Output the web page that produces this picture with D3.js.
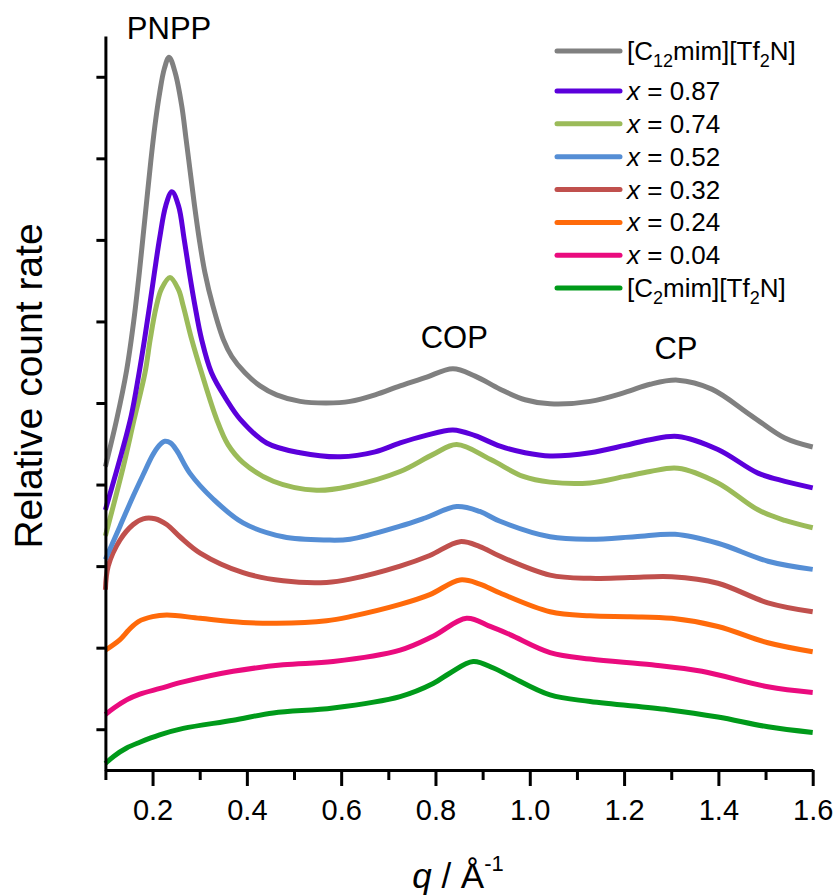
<!DOCTYPE html>
<html>
<head>
<meta charset="utf-8">
<script src="https://cdn.jsdelivr.net/npm/d3@7"></script>
<style>
  html, body { margin: 0; padding: 0; background: #fff; }
  svg { display: block; font-family: "Liberation Sans", Arial, sans-serif; }
</style>
</head>
<body>
<svg id="chart"></svg>
<script>
// q (1/Å) vs relative count rate (offset stacked)
const c12Data = [
  [0.100, 3.72], [0.124, 4.30], [0.145, 4.90], [0.160, 5.50], [0.172, 6.10], [0.180, 6.55],
  [0.188, 7.00], [0.196, 7.45], [0.205, 7.90], [0.215, 8.30], [0.225, 8.60], [0.235, 8.74],
  [0.248, 8.55], [0.262, 8.14], [0.271, 7.74], [0.280, 7.33], [0.289, 6.92],
  [0.299, 6.51], [0.311, 6.10], [0.328, 5.69], [0.350, 5.28], [0.368, 5.07], [0.396, 4.87],
  [0.428, 4.71], [0.463, 4.60], [0.513, 4.52], [0.569, 4.50], [0.619, 4.52], [0.672, 4.60],
  [0.725, 4.71], [0.778, 4.81], [0.837, 4.92], [0.884, 4.83], [0.937, 4.67], [0.990, 4.54],
  [1.043, 4.49], [1.128, 4.52], [1.202, 4.63], [1.255, 4.73], [1.314, 4.78], [1.386, 4.67],
  [1.471, 4.34], [1.541, 4.07], [1.600, 3.96]
];
const x087Data = [
  [0.100, 3.19], [0.135, 3.90], [0.155, 4.35], [0.170, 4.82], [0.183, 5.28], [0.194, 5.70],
  [0.204, 6.10], [0.215, 6.52], [0.228, 6.92], [0.241, 7.09], [0.255, 6.92], [0.267, 6.51],
  [0.278, 6.10], [0.290, 5.69], [0.304, 5.28], [0.325, 4.87], [0.357, 4.54], [0.386, 4.30],
  [0.442, 4.01], [0.513, 3.89], [0.598, 3.84], [0.672, 3.90], [0.725, 4.01], [0.778, 4.10],
  [0.837, 4.17], [0.884, 4.10], [0.937, 3.97], [0.990, 3.89], [1.043, 3.85], [1.128, 3.89],
  [1.202, 3.98], [1.255, 4.05], [1.314, 4.09], [1.399, 3.93], [1.484, 3.64], [1.541, 3.54],
  [1.600, 3.46]
];
const x074Data = [
  [0.100, 2.87], [0.138, 3.72], [0.161, 4.30], [0.184, 4.87], [0.195, 5.28], [0.207, 5.66],
  [0.219, 5.90], [0.237, 6.04], [0.255, 5.89], [0.265, 5.69], [0.283, 5.28], [0.304, 4.87],
  [0.336, 4.30], [0.360, 3.99], [0.392, 3.77], [0.456, 3.54], [0.548, 3.43], [0.619, 3.48],
  [0.725, 3.66], [0.795, 3.87], [0.845, 3.99], [0.916, 3.81], [0.986, 3.60], [1.043, 3.53],
  [1.128, 3.52], [1.202, 3.60], [1.255, 3.66], [1.314, 3.70], [1.399, 3.52], [1.484, 3.19],
  [1.541, 3.06], [1.600, 2.97]
];
const x052Data = [
  [0.100, 2.58], [0.131, 2.99], [0.159, 3.36], [0.180, 3.62], [0.200, 3.86], [0.214, 3.98],
  [0.226, 4.03], [0.238, 4.01], [0.251, 3.92], [0.279, 3.64], [0.329, 3.32], [0.392, 3.03],
  [0.477, 2.86], [0.569, 2.82], [0.619, 2.83], [0.725, 2.99], [0.778, 3.09], [0.845, 3.23],
  [0.894, 3.17], [0.937, 3.05], [1.043, 2.86], [1.128, 2.83], [1.223, 2.86], [1.308, 2.89],
  [1.399, 2.78], [1.505, 2.56], [1.600, 2.46]
];
const x032Data = [
  [0.100, 2.21], [0.106, 2.50], [0.131, 2.82], [0.159, 3.01], [0.180, 3.08], [0.205, 3.08],
  [0.230, 3.01], [0.258, 2.86], [0.301, 2.66], [0.392, 2.42], [0.477, 2.32], [0.569, 2.30],
  [0.619, 2.34], [0.725, 2.50], [0.788, 2.63], [0.852, 2.80], [0.894, 2.74], [0.937, 2.62],
  [1.043, 2.39], [1.128, 2.35], [1.213, 2.36], [1.301, 2.37], [1.399, 2.29], [1.505, 2.05],
  [1.600, 1.94]
];
const x024Data = [
  [0.100, 1.47], [0.131, 1.60], [0.150, 1.72], [0.170, 1.82], [0.200, 1.88], [0.230, 1.90],
  [0.301, 1.86], [0.392, 1.81], [0.463, 1.80], [0.569, 1.83], [0.619, 1.88], [0.725, 2.03],
  [0.788, 2.15], [0.852, 2.33], [0.894, 2.28], [0.937, 2.17], [1.043, 1.94], [1.128, 1.89],
  [1.213, 1.88], [1.301, 1.86], [1.399, 1.76], [1.505, 1.56], [1.600, 1.45]
];
const x004Data = [
  [0.100, 0.68], [0.118, 0.76], [0.145, 0.86], [0.173, 0.93], [0.216, 1.00], [0.265, 1.08],
  [0.371, 1.21], [0.477, 1.29], [0.583, 1.33], [0.725, 1.47], [0.795, 1.64], [0.866, 1.86],
  [0.916, 1.76], [0.958, 1.66], [1.043, 1.44], [1.128, 1.36], [1.259, 1.29], [1.365, 1.21],
  [1.505, 1.02], [1.600, 0.95]
];
const c2Data = [
  [0.100, 0.08], [0.118, 0.17], [0.145, 0.27], [0.173, 0.34], [0.215, 0.43], [0.265, 0.51],
  [0.371, 0.61], [0.456, 0.70], [0.583, 0.76], [0.725, 0.90], [0.795, 1.06], [0.831, 1.19],
  [0.880, 1.33], [0.923, 1.25], [0.958, 1.15], [1.043, 0.92], [1.128, 0.84], [1.293, 0.74],
  [1.399, 0.65], [1.505, 0.53], [1.600, 0.46]
];

const xMajorTicks = [0.2, 0.4, 0.6, 0.8, 1.0, 1.2, 1.4, 1.6];
const xMinorTicks = [0.1, 0.3, 0.5, 0.7, 0.9, 1.1, 1.3, 1.5];
const yTicks = [0.5, 1.5, 2.5, 3.5, 4.5, 5.5, 6.5, 7.5, 8.5];

const peakLabels = [
  { text: "PNPP", q: 0.235, v: 8.96 },
  { text: "COP", q: 0.84, v: 5.18 },
  { text: "CP", q: 1.31, v: 5.04 }
];

// legend order, top to bottom
const series = [
  { key: "c12", label: [["[C"], ["12", "sub"], ["mim][Tf"], ["2", "sub"], ["N]"]], color: "#808080", data: c12Data },
  { key: "x087", label: [["x", "it"], [" = 0.87"]], color: "#5b00db", data: x087Data },
  { key: "x074", label: [["x", "it"], [" = 0.74"]], color: "#9bbb59", data: x074Data },
  { key: "x052", label: [["x", "it"], [" = 0.52"]], color: "#558ed5", data: x052Data },
  { key: "x032", label: [["x", "it"], [" = 0.32"]], color: "#c0504d", data: x032Data },
  { key: "x024", label: [["x", "it"], [" = 0.24"]], color: "#ff6a0a", data: x024Data },
  { key: "x004", label: [["x", "it"], [" = 0.04"]], color: "#ea0b7e", data: x004Data },
  { key: "c2", label: [["[C"], ["2", "sub"], ["mim][Tf"], ["2", "sub"], ["N]"]], color: "#009a1a", data: c2Data }
];

const width = 837, height = 895;
const svg = d3.select("#chart").attr("width", width).attr("height", height);

const x = d3.scaleLinear().domain([0.1, 1.6]).range([105.4, 812.7]);
const y = d3.scaleLinear().domain([0, 9]).range([770, 36]);

// curves, bottom one first
const line = d3.line()
  .x(d => x(d[0]))
  .y(d => y(d[1]))
  .curve(d3.curveCatmullRom.alpha(0.5));

svg.append("g")
  .selectAll("path")
  .data(series.slice().reverse())
  .join("path")
  .attr("d", d => line(d.data))
  .attr("fill", "none")
  .attr("stroke", d => d.color)
  .attr("stroke-width", 5)
  .attr("stroke-linejoin", "round")
  .attr("stroke-linecap", "butt");

// x axis
const xAxisG = svg.append("g").attr("transform", `translate(0,${y(0)})`);
xAxisG.append("g")
  .call(d3.axisBottom(x).tickValues(xMinorTicks).tickSize(10).tickSizeOuter(0).tickFormat(""))
  .call(g => g.select(".domain").remove());
xAxisG.append("g")
  .call(d3.axisBottom(x).tickValues(xMajorTicks).tickSize(16).tickSizeOuter(0)
    .tickPadding(13).tickFormat(d3.format(".1f")));
xAxisG.selectAll("line").attr("stroke", "#000").attr("stroke-width", 3);
xAxisG.selectAll(".domain").attr("stroke", "#000").attr("stroke-width", 3);
xAxisG.selectAll("text")
  .attr("fill", "#000")
  .style("font-size", "29px")
  .style("font-family", "'Liberation Sans', Arial, sans-serif");

// y axis
const yAxisG = svg.append("g").attr("transform", `translate(${x(0.1)},0)`)
  .call(d3.axisLeft(y).tickValues(yTicks).tickSize(9).tickSizeOuter(0).tickFormat(""));
yAxisG.selectAll("line").attr("stroke", "#000").attr("stroke-width", 3);
yAxisG.select(".domain").attr("stroke", "#000").attr("stroke-width", 3);

// axis titles
const xTitle = svg.append("text")
  .attr("x", 458)
  .attr("y", 888)
  .attr("text-anchor", "middle")
  .style("font-size", "35px")
  .attr("fill", "#000");
xTitle.append("tspan").style("font-style", "italic").text("q");
xTitle.append("tspan").text(" / Å");
xTitle.append("tspan").attr("dy", -17).style("font-size", "22px").text("-1");

svg.append("text")
  .attr("transform", "translate(42,386) rotate(-90)")
  .attr("text-anchor", "middle")
  .style("font-size", "39px")
  .attr("fill", "#000")
  .text("Relative count rate");

// peak labels
svg.append("g")
  .selectAll("text")
  .data(peakLabels)
  .join("text")
  .attr("x", d => x(d.q))
  .attr("y", d => y(d.v))
  .attr("text-anchor", "middle")
  .style("font-size", "31px")
  .attr("fill", "#000")
  .text(d => d.text);

// legend
const legend = svg.append("g").attr("class", "legend");
series.forEach((s, i) => {
  const rowY = i === 0 ? 51 : 91 + (i - 1) * 32.85;
  const row = legend.append("g").attr("transform", `translate(557,${rowY})`);
  row.append("line")
    .attr("x1", 0).attr("x2", 63)
    .attr("y1", 0).attr("y2", 0)
    .attr("stroke", s.color)
    .attr("stroke-width", 5)
    .attr("stroke-linecap", "round");
  const t = row.append("text")
    .attr("x", 70)
    .attr("y", 9)
    .style("font-size", "26px")
    .attr("fill", "#000");
  let shifted = false;
  s.label.forEach(([txt, kind]) => {
    const sp = t.append("tspan").text(txt);
    if (kind === "it") sp.style("font-style", "italic");
    if (kind === "sub") {
      sp.style("font-size", "18px").attr("dy", 7);
      shifted = true;
    } else if (shifted) {
      sp.attr("dy", -7);
      shifted = false;
    }
  });
});
</script>
</body>
</html>
